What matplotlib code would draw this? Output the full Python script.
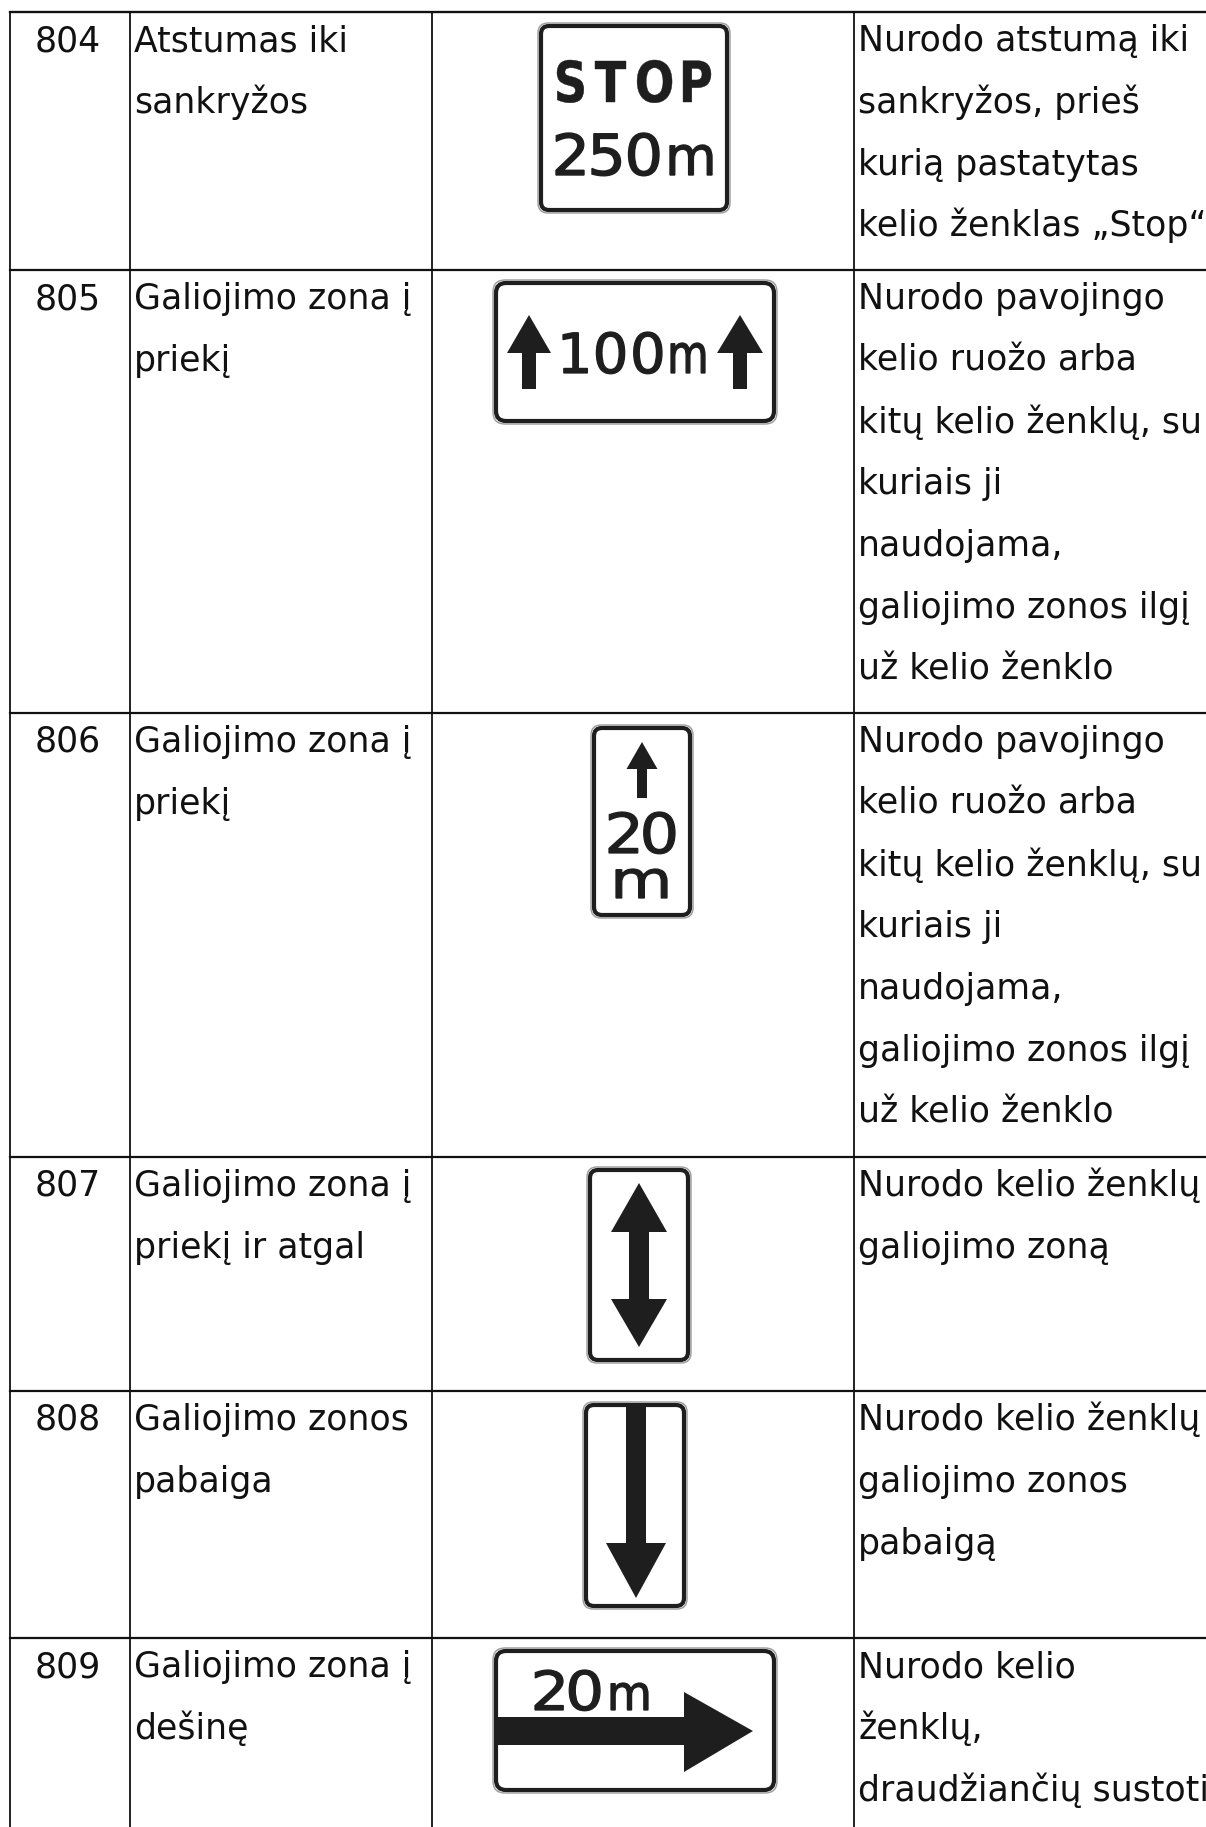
import matplotlib
matplotlib.use('Agg')
import matplotlib.pyplot as plt
from matplotlib.patches import FancyBboxPatch, Polygon, PathPatch
from matplotlib.textpath import TextPath
from matplotlib.font_manager import FontProperties
from matplotlib.transforms import Affine2D

# table content
codes = ['804', '805', '806', '807', '808', '809']
names = [
    ['Atstumas iki', 'sankryžos'],
    ['Galiojimo zona į', 'priekį'],
    ['Galiojimo zona į', 'priekį'],
    ['Galiojimo zona į', 'priekį ir atgal'],
    ['Galiojimo zonos', 'pabaiga'],
    ['Galiojimo zona į', 'dešinę'],
]
descriptions = [
    ['Nurodo atstumą iki', 'sankryžos, prieš', 'kurią pastatytas',
     'kelio ženklas „Stop“'],
    ['Nurodo pavojingo', 'kelio ruožo arba', 'kitų kelio ženklų, su',
     'kuriais ji', 'naudojama,', 'galiojimo zonos ilgį', 'už kelio ženklo'],
    ['Nurodo pavojingo', 'kelio ruožo arba', 'kitų kelio ženklų, su',
     'kuriais ji', 'naudojama,', 'galiojimo zonos ilgį', 'už kelio ženklo'],
    ['Nurodo kelio ženklų', 'galiojimo zoną'],
    ['Nurodo kelio ženklų', 'galiojimo zonos', 'pabaigą'],
    ['Nurodo kelio', 'ženklų,', 'draudžiančių sustoti'],
]

# layout (pixel units)
W, H = 1206, 1827
col_edges = [10, 130, 432, 854]
row_edges = [12, 270, 713, 1157, 1391, 1638]
FS = 25
LINE = 61.8
FIRST = 39

fig = plt.figure(figsize=(W / 100, H / 100), dpi=100)
ax = fig.add_axes([0, 0, 1, 1])
ax.set_xlim(0, W)
ax.set_ylim(H, 0)
ax.axis('off')

# grid lines
lc = '#111111'
ax.plot([col_edges[0], W], [row_edges[0], row_edges[0]], color=lc, lw=1.7)
for y in row_edges[1:]:
    ax.plot([col_edges[0], W], [y, y], color=lc, lw=1.6)
for x in col_edges:
    ax.plot([x, x], [row_edges[0], H], color=lc, lw=1.3)

# cell text
for i, top in enumerate(row_edges):
    y0 = top + FIRST
    ax.text(35, y0, codes[i], fontsize=FS, va='baseline', ha='left', color='#111')
    for j, s in enumerate(names[i]):
        ax.text(134, y0 + j * LINE, s, fontsize=FS, va='baseline', ha='left', color='#111')
    for j, s in enumerate(descriptions[i]):
        ax.text(858, y0 + j * LINE, s, fontsize=FS, va='baseline', ha='left',
                color='#111', clip_on=False)

# ---- signs ----
bold_font = FontProperties(family='DejaVu Sans', weight='bold')
reg_font = FontProperties(family='DejaVu Sans', weight='normal')
ink = '#1e1e1e'


def panel(x0, y0, x1, y1, r=10):
    # outer grey hairline, then thick black frame
    ax.add_patch(FancyBboxPatch((x0, y0), x1 - x0, y1 - y0,
                                boxstyle='round,pad=0,rounding_size=%d' % r,
                                fc='white', ec='#9a9a9a', lw=1.0))
    ax.add_patch(FancyBboxPatch((x0 + 3, y0 + 3), x1 - x0 - 6, y1 - y0 - 6,
                                boxstyle='round,pad=0,rounding_size=%d' % (r - 2),
                                fc='white', ec=ink, lw=3.0))


def fit_text(s, x0, x1, top, base, prop=reg_font, stroke=1.0, gap=0.0):
    ''' squeeze glyphs of s into box, each char placed with a fixed gap '''
    paths = [TextPath((0, 0), c, size=100, prop=prop) for c in s]
    exts = [p.get_extents() for p in paths]
    ink_w = sum(e.width for e in exts)
    sx = (x1 - x0 - gap * (len(s) - 1)) / ink_w
    sy = (base - top) / max(e.y1 for e in exts)
    x = x0
    for p, e in zip(paths, exts):
        tr = Affine2D().translate(-e.x0, 0).scale(sx, -sy).translate(x, base)
        ax.add_patch(PathPatch(tr.transform_path(p), fc=ink,
                               ec=ink if stroke else 'none', lw=stroke))
        x += e.width * sx + gap


def arrow_v(cx, tip, head_base, shaft_end, head_w, shaft_w):
    pts = [(cx, tip), (cx + head_w / 2, head_base), (cx + shaft_w / 2, head_base),
           (cx + shaft_w / 2, shaft_end), (cx - shaft_w / 2, shaft_end),
           (cx - shaft_w / 2, head_base), (cx - head_w / 2, head_base)]
    ax.add_patch(Polygon(pts, closed=True, fc=ink, ec='none'))


# 804: STOP 250 m
panel(538, 23, 730, 213)
fit_text('STOP', 557, 711, 60, 102, prop=bold_font, stroke=0.3, gap=11)
fit_text('250', 556, 659, 133, 175, stroke=1.0, gap=8)
fit_text('m', 670, 712, 145, 175, stroke=1.0)

# 805: arrows + 100m
panel(493, 280, 777, 424, r=12)
arrow_v(529, 315, 353, 389, 44, 14)
arrow_v(740, 315, 353, 389, 46, 14)
fit_text('100', 563, 662, 332, 373, stroke=0.9, gap=9)
fit_text('m', 671, 705, 343, 373, stroke=0.9)

# 806: vertical, arrow + 20 m
panel(591, 725, 693, 918)
arrow_v(642, 742, 769, 798, 31, 10)
fit_text('20', 609, 675, 812, 853, stroke=0.9, gap=6)
fit_text('m', 616, 667, 869, 898, stroke=0.9)

# 807: double arrow
panel(587, 1167, 691, 1363)
ax.add_patch(Polygon([(639, 1183), (667, 1232), (649, 1232), (649, 1299),
                      (667, 1299), (639, 1347), (611, 1299), (629, 1299),
                      (629, 1232), (611, 1232)], closed=True, fc=ink, ec='none'))

# 808: end of zone
panel(583, 1402, 687, 1609)
arrow_v(636, 1598, 1543, 1406, 60, 20)

# 809: to the right
panel(493, 1648, 777, 1793, r=12)
fit_text('20', 535, 600, 1670, 1710, stroke=0.9, gap=6)
fit_text('m', 611, 648, 1683, 1710, stroke=0.9)
ax.add_patch(Polygon([(753, 1731), (684, 1692), (684, 1717), (497, 1717),
                      (497, 1745), (684, 1745), (684, 1772)],
                     closed=True, fc=ink, ec='none'))

plt.savefig('out.png', dpi=100, facecolor='white')
plt.close()
